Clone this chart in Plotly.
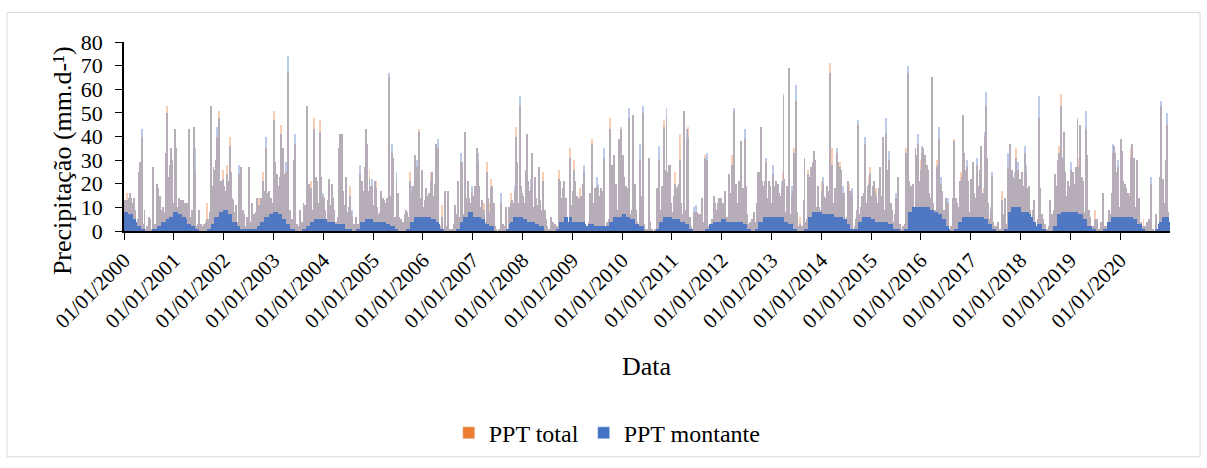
import plotly.graph_objects as go
import pandas as pd

# ---- data: weekly peak daily precipitation (mm/d), 52 weeks per year ----
years = list(range(2000, 2021))
tick_labels = [f"01/01/{y}" for y in years]

ppt_total = [
    10,13,13,16,11,14,16,14,10,12, 14,9,4,3,5,25,29,12,40,3, 2,9,1,0,2,0,6,5,0,1, 27,0,3,2,20,18,6,15,4,9, 10,5,8,33,16,53,23,12,28,35, 30,10,  # 2000
    12,43,35,10,9,14,10,13,11,13, 8,12,5,12,4,43,6,3,9,4, 36,44,25,2,1,3,9,0,3,0, 2,3,0,4,12,2,5,8,53,10, 19,27,26,19,30,40,20,51,15,21, 14,26,  # 2001
    19,12,17,28,21,15,40,25,14,13, 8,3,11,4,2,12,24,5,27,4, 9,7,2,0,6,1,27,2,4,12, 3,7,2,8,14,5,9,14,6,14, 8,25,17,10,35,16,9,17,11,14, 12,8,  # 2002
    51,29,15,24,19,12,23,45,10,13, 35,14,24,25,8,67,6,9,3,5, 2,30,37,1,3,0,2,9,1,4, 2,12,3,11,4,53,8,20,10,21, 5,9,48,18,23,21,7,12,47,23, 4,15,  # 2003
    14,9,5,4,8,13,22,7,11,20, 14,9,3,4,2,6,35,41,12,41, 17,11,5,23,8,5,2,10,19,8, 6,1,3,0,6,1,3,2,24,10, 21,17,14,27,43,37,12,17,26,10, 19,19,  # 2004
    11,21,13,21,10,7,5,8,17,9, 14,13,6,12,14,5,65,4,15,33, 31,3,6,2,21,16,16,6,1,5, 0,4,1,7,9,8,6,2,25,5, 16,19,8,32,27,27,12,26,43,14, 6,26,  # 2005
    10,9,13,18,14,15,16,10,25,25, 12,15,20,37,14,35,3,2,1,0, 11,1,0,17,2,1,17,0,1,0, 1,0,3,11,7,4,21,6,1,29, 29,9,5,7,42,14,8,21,14,10, 12,16,  # 2006
    15,10,19,9,35,29,19,8,10,13, 6,12,1,4,2,29,14,5,12,22, 19,4,12,2,1,0,0,1,0,12, 3,3,0,2,10,1,0,1,10,3, 16,13,7,12,17,44,29,9,12,53, 19,16,  # 2007
    15,8,12,26,41,21,11,17,18,19, 33,7,10,23,14,11,6,27,13,5, 9,25,4,9,5,2,0,1,0,6, 4,1,4,0,3,0,2,1,26,21, 9,14,18,21,10,14,6,4,4,35, 11,3,  # 2008
    17,30,21,9,15,14,7,10,18,15, 8,20,25,3,1,2,0,4,16,6, 39,12,3,18,5,19,18,15,5,3, 18,17,6,31,2,1,4,1,5,48, 19,28,12,32,12,20,5,9,39,22, 44,15,  # 2009
    32,14,23,15,19,10,18,48,7,5, 9,49,8,20,9,4,3,3,30,15, 5,50,3,0,1,0,1,0,31,4, 0,1,0,0,1,0,18,5,30,9, 6,19,8,47,12,26,48,25,10,28, 28,12,  # 2010
    5,8,15,25,18,11,19,20,41,12, 6,7,51,9,7,38,44,5,6,3, 2,1,0,8,7,8,8,7,2,7, 1,14,4,1,32,5,30,2,1,3, 1,4,5,3,15,12,8,9,12,14, 6,14,  # 2011
    10,12,8,17,5,6,4,24,16,5, 32,9,51,10,16,20,12,8,21,21, 38,18,18,8,39,19,7,2,3,4, 2,5,1,8,2,4,1,12,25,25, 9,44,21,19,10,21,29,14,11,21, 19,12,  # 2012
    12,24,19,16,21,14,20,16,10,15, 18,25,57,22,8,4,19,6,69,7, 2,15,17,35,10,55,8,2,1,6, 0,2,1,13,31,4,2,5,26,23, 18,27,12,29,34,30,7,10,19,10, 6,9,  # 2013
    21,20,15,14,10,19,14,12,17,71, 17,35,12,8,18,10,33,29,12,29, 26,8,16,16,3,5,6,21,9,20, 10,17,15,1,0,2,5,9,45,7, 6,10,15,9,16,37,10,12,19,23, 27,25,  # 2014
    15,19,10,21,17,18,12,8,18,27, 15,6,40,9,5,41,26,9,30,6, 12,9,3,4,7,2,14,5,23,1, 3,0,1,2,0,3,35,33,67,21, 12,19,16,20,8,10,35,32,30,37, 21,18,  # 2015
    30,33,35,18,32,25,28,26,16,10, 14,65,12,9,9,5,30,28,39,37, 10,20,17,6,9,9,14,3,12,1, 0,2,1,14,39,5,14,12,4,10, 21,12,25,23,49,33,26,12,27,21, 8,6,  # 2016
    22,12,29,16,10,14,28,12,19,26, 36,9,16,18,40,53,8,31,12,5, 3,9,23,4,2,2,1,2,4,0, 1,0,17,7,2,14,3,1,27,10, 22,37,15,26,23,20,22,35,26,26, 14,22,  # 2017
    18,25,17,19,33,25,18,12,19,9, 6,5,9,9,13,4,1,2,5,48, 18,4,7,5,1,3,0,1,0,2, 13,3,7,1,3,9,24,8,19,30, 36,14,58,31,28,42,25,11,15,21, 9,19,  # 2018
    26,9,25,12,20,27,10,47,23,31, 45,14,23,21,5,8,43,32,6,9, 6,2,1,2,0,9,1,5,5,0, 1,0,4,1,16,2,0,2,1,4, 9,7,3,16,33,36,33,12,25,27, 19,10,  # 2019
    39,13,34,21,12,20,18,10,16,16, 15,35,37,12,31,10,6,30,9,14, 3,4,2,0,5,1,2,0,4,1, 5,0,20,0,1,0,0,7,0,1, 3,23,53,10,22,12,12,6,30,45, 8,4,  # 2020
]

ppt_montante = [
    10,13,13,13,11,14,16,14,10,12, 14,9,4,3,5,25,29,12,43,3, 2,9,1,0,2,0,6,5,0,1, 27,0,3,2,20,18,6,15,4,9, 10,5,8,33,16,50,23,12,28,35, 30,10,  # 2000
    12,43,35,10,9,14,10,13,11,13, 8,12,5,12,4,43,6,3,9,4, 36,44,35,2,1,3,9,0,3,0, 2,3,0,4,5,2,5,8,53,10, 19,27,26,19,30,44,20,48,15,21, 14,22,  # 2001
    19,12,17,24,21,15,36,25,14,13, 8,3,11,4,2,12,28,5,27,4, 9,7,2,0,6,1,27,2,4,12, 3,7,2,8,14,5,9,11,6,14, 8,21,17,10,40,16,9,17,11,14, 12,8,  # 2002
    47,29,15,24,19,12,23,41,10,13, 35,14,24,29,8,74,6,9,3,5, 2,30,41,1,3,0,2,9,1,4, 2,12,3,11,4,53,8,20,10,18, 5,9,43,18,23,21,7,12,42,23, 4,16,  # 2003
    14,9,5,4,8,13,22,7,11,20, 14,9,3,4,2,6,35,41,12,41, 17,11,5,23,8,5,2,10,15,8, 9,1,3,0,6,1,3,2,28,10, 21,17,14,27,43,37,12,17,22,10, 19,22,  # 2004
    11,21,13,18,10,7,5,8,17,9, 14,13,6,12,14,5,67,4,15,37, 31,3,6,2,25,12,16,6,1,5, 0,4,1,7,9,8,6,2,21,5, 19,19,8,32,27,30,12,26,42,14, 6,26,  # 2005
    10,9,13,18,14,15,16,10,21,25, 12,15,20,37,14,39,3,2,1,0, 6,1,0,17,2,1,17,0,1,0, 1,0,3,11,7,4,21,6,1,33, 29,9,5,7,42,14,8,21,14,10, 12,19,  # 2006
    15,10,19,9,35,33,19,8,10,13, 6,9,1,4,2,25,14,5,8,18, 19,4,12,2,1,0,0,1,0,16, 3,3,0,2,10,1,0,1,10,3, 12,13,7,12,19,40,29,9,12,57, 19,16,  # 2007
    15,8,12,26,41,21,11,17,22,19, 33,7,10,23,14,11,6,27,13,5, 9,21,4,9,5,2,0,1,0,6, 4,1,4,0,3,0,2,1,22,21, 9,14,18,21,10,14,6,4,4,31, 11,3,  # 2008
    17,26,21,9,15,14,7,10,14,15, 8,20,28,3,1,2,0,4,16,6, 37,12,3,18,5,23,20,15,5,3, 18,17,6,35,2,1,4,1,5,43, 19,28,12,32,12,20,5,9,39,22, 43,15,  # 2009
    32,14,23,15,19,10,18,52,7,5, 9,49,8,20,9,4,3,3,37,15, 5,53,3,0,1,0,1,0,31,4, 0,1,0,0,1,0,18,5,36,9, 6,19,8,44,12,26,52,25,10,28, 28,12,  # 2010
    5,8,15,20,18,11,19,20,30,12, 6,7,51,9,7,43,40,5,6,3, 2,1,0,10,7,11,8,7,2,7, 1,14,4,1,31,5,33,2,1,3, 1,4,5,3,15,12,8,9,12,14, 6,14,  # 2011
    10,12,8,17,5,6,4,24,16,5, 28,9,52,10,16,20,12,8,21,21, 38,18,18,8,43,19,7,2,3,4, 2,5,1,8,2,4,1,12,25,25, 9,44,21,19,10,21,31,14,11,21, 19,12,  # 2012
    12,28,19,16,21,14,20,16,10,15, 21,21,58,22,8,4,19,6,69,7, 2,19,17,33,10,62,8,2,1,3, 0,2,1,13,31,4,2,5,24,23, 18,27,12,29,34,30,7,10,19,10, 6,9,  # 2013
    17,23,15,14,10,19,14,12,17,67, 17,28,12,8,18,10,35,29,12,27, 26,8,19,16,3,5,6,21,9,17, 10,17,18,1,0,2,5,9,47,7, 6,10,15,9,16,40,10,12,19,20, 24,25,  # 2014
    15,19,10,21,17,15,12,8,18,27, 15,6,40,9,5,48,26,9,34,6, 12,9,3,4,7,2,16,5,23,1, 3,0,1,2,0,3,33,33,70,21, 12,19,16,20,8,10,35,32,30,41, 21,18,  # 2015
    26,36,35,18,32,25,28,26,16,10, 14,65,12,9,9,5,27,28,44,37, 10,23,17,6,9,9,14,3,14,1, 0,2,1,14,38,5,14,12,4,10, 21,12,21,23,49,33,26,12,30,21, 8,6,  # 2016
    22,12,29,16,10,14,31,12,19,26, 36,9,16,15,42,59,8,31,12,5, 3,10,25,4,2,2,1,2,4,0, 1,0,13,7,2,14,3,1,33,10, 22,37,15,26,23,20,25,31,26,29, 14,22,  # 2017
    18,25,17,19,36,28,18,12,19,9, 6,5,6,9,13,4,1,2,5,57, 18,4,7,5,1,3,0,1,0,2, 13,3,7,1,3,9,24,8,19,30, 33,14,53,31,28,42,25,11,15,21, 9,19,  # 2018
    29,9,25,12,20,27,10,48,23,27, 45,14,23,21,5,8,51,32,6,9, 6,2,1,2,0,5,1,5,5,0, 1,0,4,1,16,2,0,2,1,4, 9,7,3,16,37,36,33,12,25,30, 19,10,  # 2019
    39,13,34,21,12,20,18,10,16,12, 15,31,37,12,31,10,6,30,9,14, 3,4,2,0,2,1,2,0,4,1, 5,0,23,0,1,0,0,7,0,1, 3,23,55,10,22,12,12,6,30,50, 8,4,  # 2020
]

# typical (dense) daily level of PPT montante per month, Jan..Dec
montante_base_monthly = [
    8,7,5,2,1,0,0,1,2,4,5,6,    # 2000
    8,7,6,3,2,1,0,0,1,3,6,8,    # 2001
    9,7,4,2,1,1,1,1,2,4,6,7,    # 2002
    8,7,5,3,1,0,0,1,2,4,5,5,    # 2003
    5,4,4,3,3,1,1,0,1,4,5,5,    # 2004
    4,4,4,3,2,1,0,0,1,4,6,6,    # 2005
    6,6,5,4,1,0,0,0,1,4,6,8,    # 2006
    6,6,5,3,2,0,0,0,1,4,6,6,    # 2007
    5,4,4,3,2,0,0,0,1,4,6,6,    # 2008
    4,4,4,3,3,2,2,2,2,4,6,6,    # 2009
    7,6,5,3,2,0,0,0,1,4,6,6,    # 2010
    5,5,4,3,1,0,0,0,1,3,4,4,    # 2011
    5,4,4,4,4,3,1,0,1,4,6,6,    # 2012
    6,6,6,4,3,1,0,0,1,6,8,8,    # 2013
    7,7,7,6,6,5,3,1,1,4,6,6,    # 2014
    5,4,4,4,3,1,1,0,1,8,10,10,  # 2015
    10,10,9,8,7,5,2,0,1,4,6,6,  # 2016
    6,6,6,5,3,1,0,0,1,8,10,10,  # 2017
    8,8,7,4,3,1,0,0,2,7,8,8,    # 2018
    8,8,7,5,2,1,0,0,1,4,6,6,    # 2019
    6,6,6,5,3,1,0,0,1,4,6,6,    # 2020
]

# ---- build week positions (categories) ----
week_centers = []
for y in years:
    for i in range(52):
        week_centers.append(pd.Timestamp(y, 1, 1) + pd.Timedelta(days=7 * i, hours=84))
base_level = [
    min(montante_base_monthly[(c.year - 2000) * 12 + c.month - 1], m)
    for c, m in zip(week_centers, ppt_montante)
]
W = 7 * 86400000

ORANGE = "#ED7D31"
BLUE = "#4472C4"
FONT = "Liberation Serif, Times New Roman, serif"

fig = go.Figure()
fig.add_trace(go.Bar(x=week_centers, y=ppt_total, width=W, marker=dict(color=ORANGE, line=dict(width=0)),
                     opacity=0.36, showlegend=False, name="PPT total"))
fig.add_trace(go.Bar(x=week_centers, y=ppt_montante, width=W, marker=dict(color=BLUE, line=dict(width=0)),
                     opacity=0.36, showlegend=False, name="PPT montante"))
fig.add_trace(go.Bar(x=week_centers, y=base_level, width=W, marker=dict(color=BLUE, line=dict(width=0)),
                     opacity=0.9, showlegend=False, name="PPT montante", hoverinfo="skip"))
# legend entries
fig.add_trace(go.Bar(x=[None], y=[None], marker=dict(color=ORANGE), name="PPT total"))
fig.add_trace(go.Bar(x=[None], y=[None], marker=dict(color=BLUE), name="PPT montante"))

fig.update_layout(
    width=1207, height=468,
    margin=dict(l=124, r=37, t=42, b=235),
    paper_bgcolor="white", plot_bgcolor="white",
    barmode="overlay", bargap=0,
    font=dict(family=FONT, size=21, color="black"),
    showlegend=True,
    legend=dict(orientation="h", x=0.462, xanchor="center", y=-1.07, yanchor="middle",
                font=dict(family=FONT, size=24, color="black"), bgcolor="rgba(0,0,0,0)"),
)
fig.update_xaxes(
    type="date", range=["2000-01-01", "2021-01-01"],
    tickmode="array", tickvals=[pd.Timestamp(y, 1, 1) for y in years], ticktext=tick_labels,
    tickangle=-45, ticks="outside", ticklen=7, tickwidth=1.3, tickcolor="black",
    showline=True, linecolor="black", linewidth=1.5, showgrid=False, zeroline=False,
    tickfont=dict(family=FONT, size=21, color="black"),
)
fig.update_yaxes(
    range=[0, 80], dtick=10, ticks="outside", ticklen=7, tickwidth=1.3, tickcolor="black",
    showline=True, linecolor="black", linewidth=1.5, showgrid=False, zeroline=False,
    tickfont=dict(family=FONT, size=22, color="black"), ticklabelstandoff=8,
)
fig.add_annotation(text="Precipitação (mm.d-¹)", textangle=-90, xref="paper", yref="paper",
                   x=-0.0593, y=0.375, xanchor="center", yanchor="middle", showarrow=False,
                   font=dict(family=FONT, size=26, color="black"))
fig.add_annotation(text="Data", xref="paper", yref="paper", x=0.5, y=-0.719,
                   xanchor="center", yanchor="middle", showarrow=False,
                   font=dict(family=FONT, size=26, color="black"))
fig.add_shape(type="rect", xref="paper", yref="paper", x0=-0.1119, x1=1.0287, y0=-1.195, y1=1.1555,
              line=dict(color="#D9D9D9", width=1), fillcolor="rgba(0,0,0,0)", layer="below")

fig.write_html("out.html")
